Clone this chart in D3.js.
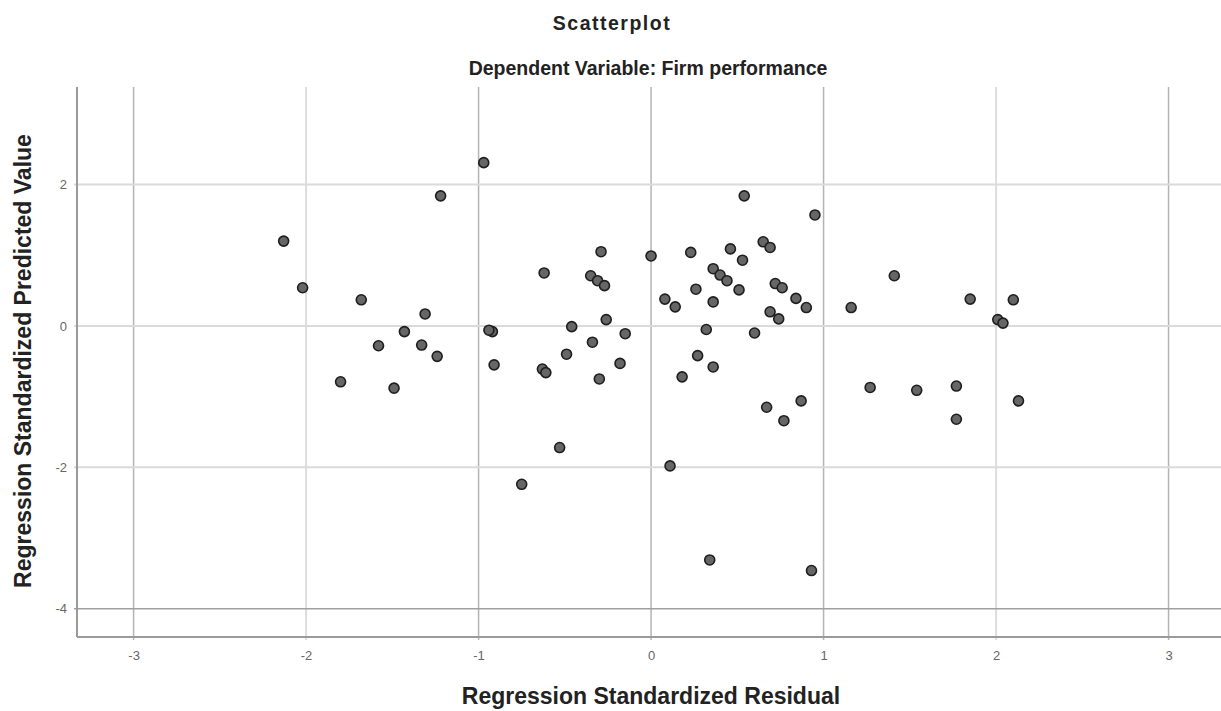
<!DOCTYPE html>
<head>
    <meta charset="utf-8">
    <script src="https://d3js.org/d3.v7.min.js"></script>
    <style>
        body { margin: 0; background: #fff; }
        text { font-family: "Liberation Sans", Arial, sans-serif; }
    </style>
</head>
<body>
    <div id="chart"></div>
    <script>
        // regression standardized residual (x) and predicted value (y)
        var residuals = [
            -2.13, -2.02, -1.68, -1.31, -1.43, -1.58, -1.33, -1.24, -1.80, -1.49,
            -1.22, -0.97, -0.92, -0.94, -0.91, -0.75, -0.53, -0.62, -0.63, -0.61,
            -0.49, -0.46, -0.29, -0.35, -0.31, -0.27, -0.26, -0.34, -0.15, -0.18,
            -0.30, 0.00, 0.08, 0.14, 0.23, 0.46, 0.53, 0.65, 0.69, 0.36,
            0.40, 0.44, 0.51, 0.26, 0.36, 0.32, 0.27, 0.36, 0.18, 0.11,
            0.34, 0.54, 0.95, 0.72, 0.76, 0.84, 0.90, 0.69, 0.74, 0.60,
            0.67, 0.77, 0.87, 0.93, 1.16, 1.41, 1.27, 1.54, 1.77, 1.77,
            1.85, 2.10, 2.01, 2.04, 2.13
        ]
        var predicted = [
            1.20, 0.54, 0.37, 0.17, -0.08, -0.28, -0.27, -0.43, -0.79, -0.88,
            1.84, 2.31, -0.08, -0.06, -0.55, -2.24, -1.72, 0.75, -0.61, -0.66,
            -0.40, -0.01, 1.05, 0.71, 0.64, 0.57, 0.09, -0.23, -0.11, -0.53,
            -0.75, 0.99, 0.38, 0.27, 1.04, 1.09, 0.93, 1.19, 1.11, 0.81,
            0.72, 0.64, 0.51, 0.52, 0.34, -0.05, -0.42, -0.58, -0.72, -1.98,
            -3.31, 1.84, 1.57, 0.60, 0.54, 0.39, 0.26, 0.20, 0.10, -0.10,
            -1.15, -1.34, -1.06, -3.46, 0.26, 0.71, -0.87, -0.91, -0.85, -1.32,
            0.38, 0.37, 0.09, 0.04, -1.06
        ]
        var xTicks = [-3, -2, -1, 0, 1, 2, 3]
        var yTicks = [2, 0, -2, -4]
        var darkX = [-3, -1, 0, 1, 3]

        var W = 1221, H = 711
        var plot = { left: 77, right: 1221, top: 87, bottom: 637 }

        var svg = d3.select("#chart").append("svg")
            .attr("width", W)
            .attr("height", H)

        var x = d3.scaleLinear().domain([-3.328, 3.304]).range([plot.left, plot.right])
        var y = d3.scaleLinear().domain([-4.40, 3.38]).range([plot.bottom, plot.top])

        // grid
        svg.append("g").selectAll("line").data(xTicks).enter().append("line")
            .attr("x1", d => x(d)).attr("x2", d => x(d))
            .attr("y1", plot.top).attr("y2", plot.bottom + 3)
            .attr("stroke", d => darkX.indexOf(d) >= 0 ? "#b4b4b4" : "#dddddd")
            .attr("stroke-width", d => darkX.indexOf(d) >= 0 ? 1.5 : 2)

        svg.append("g").selectAll("line").data(yTicks).enter().append("line")
            .attr("x1", plot.left - 3).attr("x2", plot.right)
            .attr("y1", d => y(d)).attr("y2", d => y(d))
            .attr("stroke", d => d == -4 ? "#a0a0a0" : "#dadada")
            .attr("stroke-width", d => d == -4 ? 1.5 : 2)

        // axes
        var fmt = d => String(d)
        var xAxis = d3.axisBottom(x).tickValues(xTicks).tickFormat(fmt).tickSize(0).tickPadding(14)
        var yAxis = d3.axisLeft(y).tickValues(yTicks).tickFormat(fmt).tickSize(0).tickPadding(10)

        var gx = svg.append("g").attr("transform", "translate(0," + plot.bottom + ")").call(xAxis)
        var gy = svg.append("g").attr("transform", "translate(" + plot.left + ",0)").call(yAxis)
        gx.select(".domain").remove()
        gy.select(".domain").remove()
        svg.selectAll(".tick text")
            .attr("font-family", "Liberation Sans, Arial, sans-serif")
            .attr("font-size", 13)
            .attr("fill", "#666")

        svg.append("line")
            .attr("x1", plot.left).attr("x2", plot.right)
            .attr("y1", plot.bottom).attr("y2", plot.bottom)
            .attr("stroke", "#9a9a9a").attr("stroke-width", 2)
        svg.append("line")
            .attr("x1", plot.left).attr("x2", plot.left)
            .attr("y1", plot.top).attr("y2", plot.bottom)
            .attr("stroke", "#9a9a9a").attr("stroke-width", 2)

        // points
        svg.append("g").selectAll("circle").data(residuals).enter().append("circle")
            .attr("cx", d => x(d))
            .attr("cy", (d, i) => y(predicted[i]))
            .attr("r", 5)
            .attr("fill", "#666")
            .attr("stroke", "#1e1e1e")
            .attr("stroke-width", 1.6)

        // titles
        svg.append("text")
            .attr("x", 612).attr("y", 30)
            .attr("text-anchor", "middle")
            .attr("font-size", 19.5).attr("font-weight", "bold")
            .attr("letter-spacing", 1.5)
            .attr("fill", "#222")
            .text("Scatterplot")
        svg.append("text")
            .attr("x", 648).attr("y", 75)
            .attr("text-anchor", "middle")
            .attr("font-size", 19.5).attr("font-weight", "bold")
            .attr("fill", "#222")
            .text("Dependent Variable: Firm performance")
        svg.append("text")
            .attr("x", 651).attr("y", 704)
            .attr("text-anchor", "middle")
            .attr("font-size", 23).attr("font-weight", "bold")
            .attr("fill", "#222")
            .text("Regression Standardized Residual")
        svg.append("text")
            .attr("transform", "translate(31,361) rotate(-90)")
            .attr("text-anchor", "middle")
            .attr("font-size", 23).attr("font-weight", "bold")
            .attr("fill", "#222")
            .text("Regression Standardized Predicted Value")
    </script>
</body>
</html>
